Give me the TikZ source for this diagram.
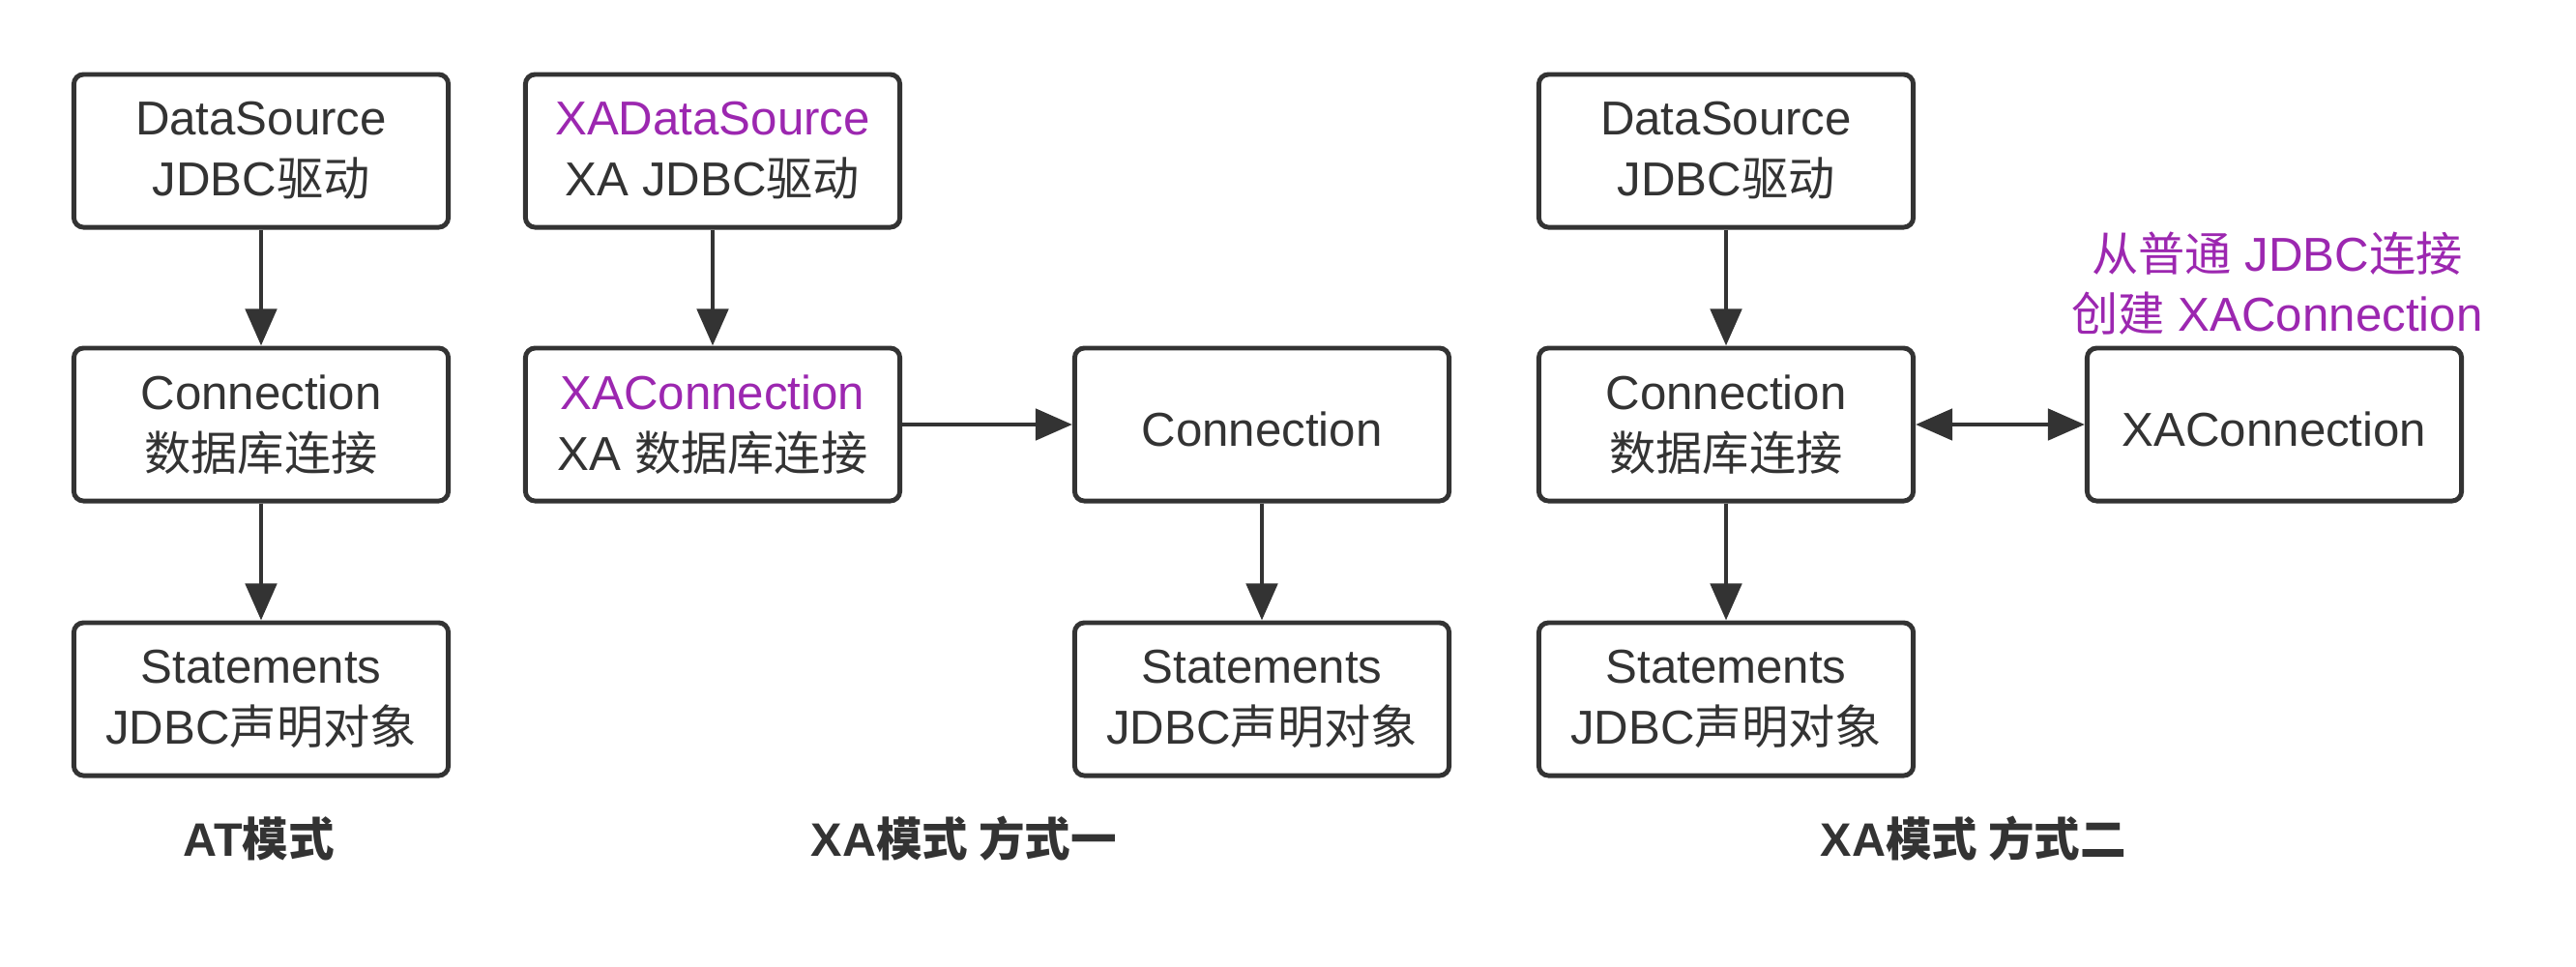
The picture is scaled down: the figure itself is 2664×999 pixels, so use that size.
\documentclass[tikz,border=0pt]{standalone}
\usepackage{fontspec}
\setmainfont{Liberation Sans}
\newfontfamily\cjk{Noto Sans CJK SC}[Scale=0.98]
\usetikzlibrary{arrows.meta}
\definecolor{ink}{HTML}{333333}
\definecolor{xapurple}{HTML}{9C27B0}
\tikzset{
  box/.style={draw=ink, line width=1.4pt, rounded corners=0.1cm,
    minimum width=3.87cm, minimum height=1.58cm, align=center, text=ink,
    font=\fontsize{14}{18}\selectfont, inner sep=0pt, fill=white,
    execute at begin node={\rule{0pt}{13pt}}},
  arr/.style={draw=ink, line width=1.4pt, -{Triangle[width=0.32cm,length=0.38cm]}},
  darr/.style={draw=ink, line width=1.4pt,
    {Triangle[width=0.32cm,length=0.38cm]}-{Triangle[width=0.32cm,length=0.38cm]}},
  caption/.style={text=ink, font=\fontsize{13.8}{18}\selectfont\bfseries},
  note/.style={text=xapurple, align=center, font=\fontsize{14}{17.5}\selectfont}
}
\begin{document}
\begin{tikzpicture}[x=0.01cm,y=-0.01cm]
\useasboundingbox[fill=white] (0,0) rectangle (2664,999);
% AT mode
\node[box] (a1) at (270,156) {DataSource\\JDBC{\cjk 驱动}};
\node[box] (a2) at (270,439) {Connection\\{\cjk 数据库连接}};
\node[box] (a3) at (270,723) {Statements\\JDBC{\cjk 声明对象}};
\draw[arr] (a1) -- (a2);
\draw[arr] (a2) -- (a3);
\node[caption] (ca) at (268,867) {AT{\cjk 模式}};
% XA mode 1
\node[box] (b1) at (737,156) {\textcolor{xapurple}{XADataSource}\\XA JDBC{\cjk 驱动}};
\node[box] (b2) at (737,439) {\textcolor{xapurple}{XAConnection}\\XA {\cjk 数据库连接}};
\node[box] (b3) at (1305,439) {Connection};
\node[box] (b4) at (1305,723) {Statements\\JDBC{\cjk 声明对象}};
\draw[arr] (b1) -- (b2);
\draw[arr] (b2) -- (b3);
\draw[arr] (b3) -- (b4);
\node[caption] (cb) at (997,867) {XA{\cjk 模式 方式一}};
% XA mode 2
\node[box] (c1) at (1785,156) {DataSource\\JDBC{\cjk 驱动}};
\node[box] (c2) at (1785,439) {Connection\\{\cjk 数据库连接}};
\node[box] (c3) at (1785,723) {Statements\\JDBC{\cjk 声明对象}};
\node[box] (c4) at (2352,439) {XAConnection};
\draw[arr] (c1) -- (c2);
\draw[arr] (c2) -- (c3);
\draw[darr] (c2) -- (c4);
\node[note] (n1) at (2355,293) {{\cjk 从普通} JDBC{\cjk 连接}\\{\cjk 创建} XAConnection};
\node[caption] (cc) at (2041,867) {XA{\cjk 模式 方式二}};
\end{tikzpicture}
\end{document}
